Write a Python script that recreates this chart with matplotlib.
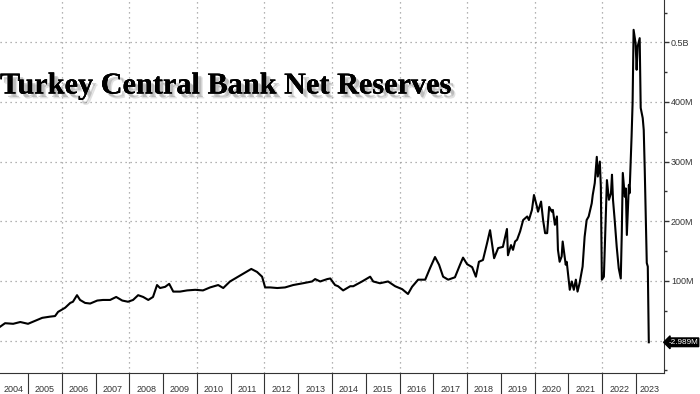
import matplotlib.pyplot as plt
import matplotlib.patheffects as pe
from matplotlib.ticker import MultipleLocator, FixedLocator, NullFormatter

# Net reserves (decimal year, millions)
years = [
    2004.17, 2004.32, 2004.56, 2004.77, 2005.00, 2005.21, 2005.42, 2005.65, 2005.80, 2005.89,
    2006.10, 2006.25, 2006.33, 2006.45, 2006.54, 2006.69, 2006.84, 2007.05, 2007.22, 2007.43,
    2007.61, 2007.79, 2007.96, 2008.11, 2008.26, 2008.41, 2008.56, 2008.70, 2008.82, 2008.91,
    2009.06, 2009.18, 2009.30, 2009.50, 2009.71, 2009.95, 2010.18, 2010.39, 2010.63, 2010.78,
    2010.98, 2011.19, 2011.37, 2011.61, 2011.78, 2011.93, 2012.02, 2012.17, 2012.38, 2012.61,
    2012.85, 2013.14, 2013.41, 2013.50, 2013.65, 2013.86, 2013.95, 2014.09, 2014.18, 2014.33,
    2014.54, 2014.63, 2014.89, 2015.13, 2015.22, 2015.42, 2015.66, 2015.87, 2016.08, 2016.25,
    2016.37, 2016.55, 2016.76, 2016.90, 2017.05, 2017.17, 2017.29, 2017.44, 2017.64, 2017.79,
    2017.88, 2018.00, 2018.15, 2018.26, 2018.35, 2018.47, 2018.59, 2018.68, 2018.80, 2018.92,
    2019.06, 2019.18, 2019.21, 2019.30, 2019.36, 2019.42, 2019.48, 2019.57, 2019.66, 2019.78,
    2019.83, 2019.92, 2019.98, 2020.07, 2020.10, 2020.19, 2020.25, 2020.31, 2020.37, 2020.43,
    2020.51, 2020.54, 2020.60, 2020.66, 2020.69, 2020.74, 2020.80, 2020.83, 2020.92, 2020.95,
    2021.04, 2021.10, 2021.16, 2021.22, 2021.27, 2021.33, 2021.42, 2021.48, 2021.54, 2021.60,
    2021.69, 2021.72, 2021.78, 2021.84, 2021.87, 2021.93, 2021.96, 2021.99, 2022.05, 2022.11,
    2022.14, 2022.20, 2022.26, 2022.29, 2022.32, 2022.37, 2022.43, 2022.49, 2022.55, 2022.58,
    2022.61, 2022.67, 2022.70, 2022.73, 2022.79, 2022.81, 2022.87, 2022.90, 2022.93, 2022.99,
    2023.02, 2023.05, 2023.11, 2023.14, 2023.20, 2023.23, 2023.26, 2023.32, 2023.35, 2023.38,
]
reserves = [
    23, 29, 28, 31, 28, 33, 38, 40, 41, 48,
    55, 63, 65, 76, 68, 63, 62, 67, 68, 68,
    73, 67, 65, 68, 76, 73, 68, 73, 93, 88,
    90, 95, 82, 82, 84, 85, 84, 89, 93, 88,
    99, 106, 112, 120, 115, 107, 89, 89, 88, 89,
    93, 96, 99, 103, 99, 103, 104, 93, 91, 84,
    91, 91, 99, 107, 99, 96, 99, 91, 86, 78,
    90, 102, 102, 121, 140, 127, 107, 102, 106, 127,
    139, 128, 123, 107, 132, 135, 163, 185, 138, 155,
    157, 187, 143, 160, 152, 166, 169, 183, 202, 208,
    202, 219, 244, 224, 216, 233, 202, 180, 180, 224,
    216, 219, 194, 208, 152, 132, 141, 166, 127, 132,
    85, 99, 85, 102, 82, 96, 124, 174, 202, 208,
    230, 244, 264, 308, 275, 300, 258, 102, 107, 213,
    269, 236, 247, 278, 236, 202, 157, 121, 104, 180,
    281, 241, 255, 177, 261, 247, 342, 398, 521, 498,
    454, 493, 507, 390, 373, 353, 286, 130, 124, -2.989,
]

year_ticks = list(range(2005, 2024))
year_labels = [str(y) for y in range(2004, 2024)]
value_ticks = [100, 200, 300, 400, 500]
value_labels = ["100M", "200M", "300M", "400M", "0.5B"]

plt.rcParams["font.family"] = "Liberation Sans"

fig = plt.figure(figsize=(7.0, 3.94), dpi=100)
ax = fig.add_axes([0.0, 21 / 394, 664 / 700, 373 / 394])

ax.plot(years, reserves, color="black", linewidth=1.5)

x_lo, x_hi = 2004.17, 2023.83
ax.set_xlim(x_lo, x_hi)
ax.set_ylim(-54.5, 571)

# gridlines
for v in [0] + value_ticks:
    ax.axhline(v, color="#9a9a9a", linestyle=(0, (1, 3)), linewidth=0.9, zorder=0)
for y in range(2006, 2024, 2):
    ax.axvline(y, color="#9a9a9a", linestyle=(0, (1, 3)), linewidth=0.9, zorder=0)

# spines
for side in ["top", "left"]:
    ax.spines[side].set_visible(False)
ax.spines["right"].set_color("#333333")
ax.spines["bottom"].set_color("#333333")

# y axis on the right
ax.yaxis.tick_right()
ax.set_yticks(value_ticks)
ax.set_yticklabels(value_labels)
ax.yaxis.set_minor_locator(MultipleLocator(50))
ax.tick_params(axis="y", which="major", direction="out", length=3.5, width=1,
               colors="#333333", labelsize=6.5, pad=1.5)
ax.tick_params(axis="y", which="minor", direction="out", length=2.5, width=1, colors="#333333")

# x axis: year separators as ticks, labels centred in each year
ax.set_xticks(year_ticks)
ax.xaxis.set_major_formatter(NullFormatter())
mids = [(max(y, x_lo) + min(y + 1, x_hi)) / 2 for y in range(2004, 2024)]
ax.xaxis.set_minor_locator(FixedLocator(mids))
ax.set_xticklabels(year_labels, minor=True)
ax.tick_params(axis="x", which="major", direction="out", length=16, width=0.8, colors="#333333")
ax.tick_params(axis="x", which="minor", length=0, labelsize=6.5, colors="#333333", pad=9)

# last value marker
ax.annotate(f"{reserves[-1]:.3f}M", xy=(1.0, reserves[-1]), xycoords=("axes fraction", "data"),
            xytext=(3, 0), textcoords="offset points", va="center", ha="left",
            fontsize=5.9, color="white",
            bbox=dict(boxstyle="larrow,pad=0.1", fc="black", ec="black"),
            annotation_clip=False)

# title
fig.text(0.0, (394 - 93.5) / 394, "Turkey Central Bank Net Reserves",
         fontsize=21.8, fontweight="bold", family="Liberation Serif", color="black",
         va="baseline", ha="left",
         path_effects=[pe.withSimplePatchShadow(offset=(3.5, -3.5), shadow_rgbFace="#888888", alpha=0.25),
                       pe.withSimplePatchShadow(offset=(2.5, -2.5), shadow_rgbFace="#777777", alpha=0.35),
                       pe.Normal()])

fig.savefig("out.png", dpi=100, facecolor="white")
